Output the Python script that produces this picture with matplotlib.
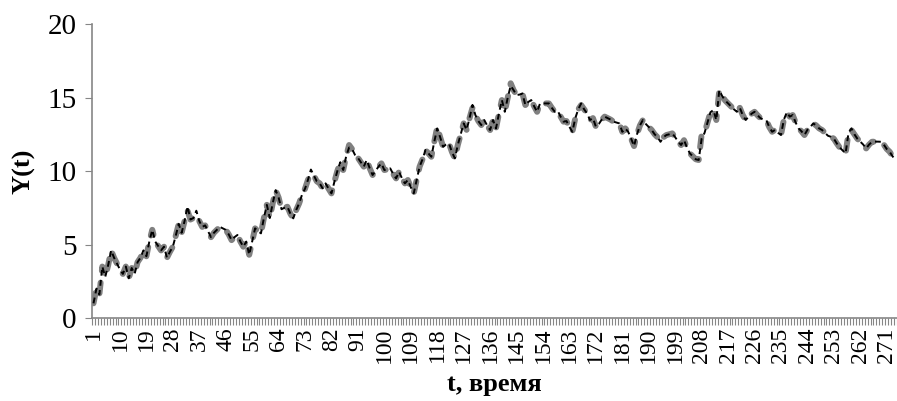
import matplotlib
matplotlib.use("Agg")
import matplotlib.pyplot as plt
import numpy as np

# observed series Y(t), t = 1..274
observed = [
    1.0, 2.0, 1.6, 3.5, 2.8, 3.6, 4.6, 4.1, 3.7, 3.3,
    3.0, 3.5, 2.7, 3.4, 3.0, 3.8, 4.1, 4.6, 4.2, 5.2,
    6.0, 5.2, 4.9, 4.6, 4.85, 4.1, 4.5, 4.85, 5.6, 6.4,
    5.8, 6.6, 7.3, 6.7, 6.8, 7.0, 6.6, 6.2, 6.3, 5.9,
    5.5, 5.8, 6.0, 6.2, 6.1, 6.0, 5.7, 5.3, 5.5, 5.65,
    5.2, 4.85, 5.2, 4.3, 5.2, 6.1, 5.9, 5.76, 6.8, 7.7,
    6.8, 7.8, 8.7, 8.2, 7.4, 7.5, 7.57, 7.1, 6.78, 7.35,
    7.8, 8.4, 8.8, 9.4, 9.8, 9.7, 9.3, 9.16, 8.82, 9.16,
    8.8, 8.48, 9.27, 10.0, 10.6, 10.07, 11.0, 11.77, 11.5, 11.1,
    10.9, 10.6, 10.3, 10.75, 10.2, 9.73, 10.0, 10.3, 10.52, 10.07,
    10.1, 10.18, 9.8, 9.5, 9.95, 9.5, 9.16, 9.39, 8.9, 8.48,
    9.4, 10.3, 10.8, 11.43, 11.2, 10.97, 12.0, 13.0, 12.3, 11.65,
    11.8, 11.88, 11.3, 10.86, 11.77, 12.5, 13.24, 12.8, 13.6, 14.3,
    13.8, 13.4, 13.13, 13.47, 13.1, 12.79, 13.47, 12.9, 13.9, 14.83,
    14.03, 15.0, 15.97, 15.5, 15.17, 15.2, 15.28, 14.49, 14.7, 14.83,
    14.4, 14.03, 14.6, 14.6, 14.6, 14.6, 14.3, 14.03, 14.1, 13.7,
    13.36, 13.4, 13.0, 12.67, 13.6, 14.2, 14.49, 14.2, 13.92, 13.47,
    13.6, 13.02, 13.2, 13.5, 13.7, 13.6, 13.5, 13.36, 13.3, 13.24,
    12.67, 12.9, 12.67, 12.2, 11.7, 12.5, 13.1, 13.47, 13.2, 13.0,
    12.79, 12.5, 12.3, 11.99, 12.3, 12.45, 12.5, 12.56, 12.3, 12.0,
    11.77, 12.1, 11.6, 11.2, 11.0, 10.8, 10.75, 12.5, 12.6, 13.3,
    14.0, 14.15, 13.47, 15.46, 15.1, 14.8, 14.6, 14.4, 14.2, 14.03,
    14.3, 13.8, 13.47, 13.7, 13.9, 14.03, 13.8, 13.6, 13.5, 13.47,
    13.0, 12.67, 12.8, 12.6, 12.45, 13.5, 13.92, 13.7, 13.81, 13.3,
    12.9, 12.7, 12.45, 12.8, 13.0, 13.24, 13.1, 12.9, 12.79, 12.6,
    12.4, 12.33, 12.2, 11.88, 11.6, 11.4, 11.2, 12.6, 12.79, 12.5,
    12.2, 12.0, 11.8, 11.54, 11.8, 11.99, 12.0, 12.0, 11.99, 11.8,
    11.5, 11.31, 11.0, 10.75,
]

# model values differ from the observed ones at a few points
model_changes = {
    33: 7.6, 36: 7.3, 75: 10.1, 88: 11.6, 118: 12.9, 130: 14.5,
    143: 15.8, 167: 14.6, 208: 12.2, 214: 15.5, 237: 14.0, 259: 12.9,
}
model = list(observed)
for t, v in model_changes.items():
    model[t - 1] = v

t = np.arange(1, len(observed) + 1)
tick_labels = [str(k) for k in t[::9]]

axis_color = "#868686"
serif = ["Liberation Serif", "DejaVu Serif"]
plt.rcParams["font.family"] = serif

fig = plt.figure(figsize=(8.97, 4.01), dpi=100)
ax = fig.add_axes([0.1026, 0.207, 0.8974, 0.733])

ax.plot(t, observed, color="#808080", lw=4.3, linestyle=(0, (1.8, 2.0)),
        dash_capstyle="round", solid_capstyle="round", zorder=2)
ax.plot(t, model, color="black", lw=1.4, linestyle=(0, (3.0, 2.2)), zorder=3)

ax.set_xlim(0.5, len(observed) + 0.5)
ax.set_ylim(0, 20)
ax.set_yticks([0, 5, 10, 15, 20])

ax.set_xticks(t[::9])
ax.set_xticklabels(tick_labels, rotation=90, fontsize=17)
ax.set_xticks(np.arange(0.5, len(observed) + 1, 1.0), minor=True)
ax.tick_params(axis="x", which="major", length=0, pad=7)
ax.tick_params(axis="x", which="minor", length=5, width=0.8, color=axis_color)
ax.tick_params(axis="y", length=5, width=0.8, color=axis_color, labelsize=21, pad=6)

for side in ("top", "right"):
    ax.spines[side].set_visible(False)
for side in ("left", "bottom"):
    ax.spines[side].set_color(axis_color)
    ax.spines[side].set_linewidth(1.2)

ax.set_ylabel("Y(t)", fontsize=19, fontweight="bold", labelpad=9)
ax.set_xlabel("t, время", fontsize=19, fontweight="bold", labelpad=7)

fig.savefig("out.png", dpi=100)
